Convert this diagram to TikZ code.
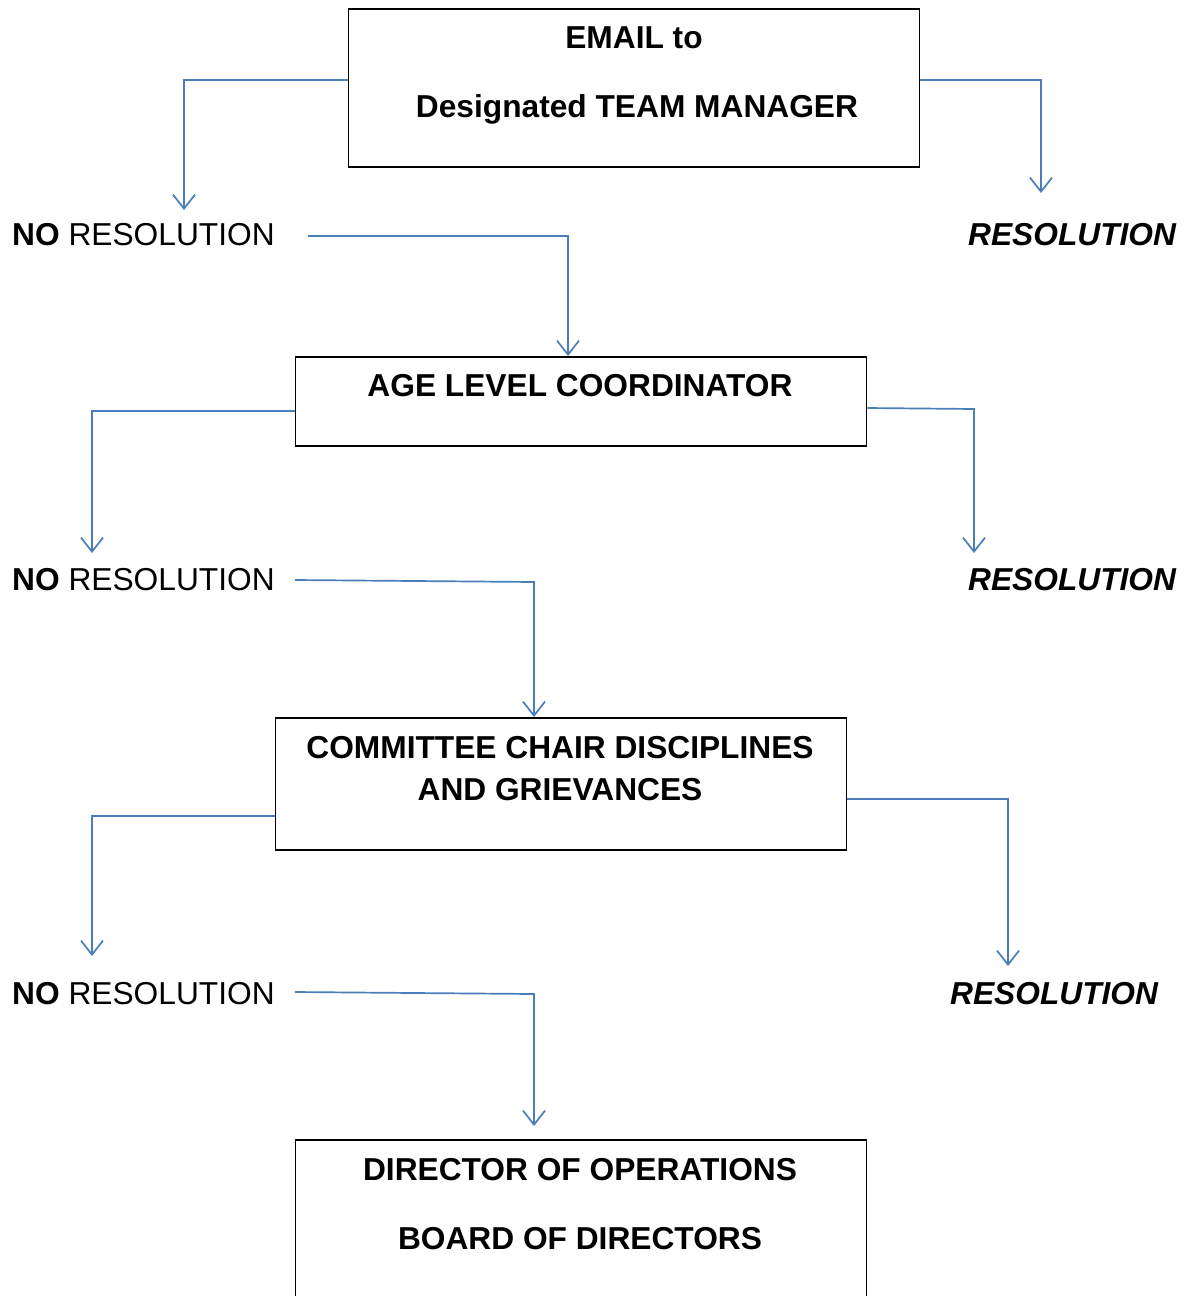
\documentclass[tikz,border=0pt]{standalone}
\usepackage{fontspec}
\setmainfont{Liberation Sans}
\usetikzlibrary{arrows.meta}
\definecolor{conncol}{HTML}{4A7EBB}
\tikzset{
  box/.style={draw=black, line width=1.8pt, inner sep=0pt, anchor=north west},
  lbl/.style={inner sep=0pt, font=\fontsize{31.7}{38}\selectfont},
  conn/.style={draw=conncol, line width=1.7pt, -{Straight Barb[length=14pt,width=22pt]}},
}
\begin{document}
\begin{tikzpicture}[x=1pt,y=-1pt]
\useasboundingbox (0,0) rectangle (1187,1296);
\clip (0,0) rectangle (1187,1296);
% boxes
\node[box, minimum width=571pt, minimum height=158pt] (b1) at (347.5,8) {};
\node[box, minimum width=571pt, minimum height=89pt] (b2) at (294.5,356) {};
\node[box, minimum width=571pt, minimum height=132pt] (b3) at (274.5,717) {};
\node[box, minimum width=571pt, minimum height=200pt] (b4) at (294.5,1139) {};
% box texts
\node[lbl, anchor=base] (t1a) at (634,48) {\bfseries EMAIL to};
\node[lbl, anchor=base] (t1b) at (637,117) {\bfseries Designated TEAM MANAGER};
\node[lbl, anchor=base] (t2) at (580,396) {\bfseries AGE LEVEL COORDINATOR};
\node[lbl, anchor=base] (t3a) at (560,758) {\bfseries COMMITTEE CHAIR DISCIPLINES};
\node[lbl, anchor=base] (t3b) at (560,800) {\bfseries AND GRIEVANCES};
\node[lbl, anchor=base] (t4a) at (580,1180) {\bfseries DIRECTOR OF OPERATIONS};
\node[lbl, anchor=base] (t4b) at (580,1249) {\bfseries BOARD OF DIRECTORS};
% outcome labels
\node[lbl, anchor=base west] (n1) at (12,245) {\textbf{NO} RESOLUTION};
\node[lbl, anchor=base west] (n2) at (12,590) {\textbf{NO} RESOLUTION};
\node[lbl, anchor=base west] (n3) at (12,1004) {\textbf{NO} RESOLUTION};
\node[lbl, anchor=base west] (r1) at (968,245) {\bfseries\itshape RESOLUTION};
\node[lbl, anchor=base west] (r2) at (968,590) {\bfseries\itshape RESOLUTION};
\node[lbl, anchor=base west] (r3) at (950,1004) {\bfseries\itshape RESOLUTION};
% bend and end coordinates
\coordinate (c1l) at (184,80);   \coordinate (e1l) at (184,210);
\coordinate (c1r) at (1041,80);  \coordinate (e1r) at (1041,193);
\coordinate (s1) at (308,236);   \coordinate (c1d) at (568,236);
\coordinate (c2l) at (92,411);   \coordinate (e2l) at (92,553);
\coordinate (c2r) at (974,409);  \coordinate (e2r) at (974,553);
\coordinate (s2) at (295,580);   \coordinate (c2d) at (534,582);
\coordinate (c3l) at (92,816);   \coordinate (e3l) at (92,956);
\coordinate (c3r) at (1008,799); \coordinate (e3r) at (1008,966);
\coordinate (s3) at (295,992);   \coordinate (c3d) at (534,994);
% connectors
\draw[conn] (b1.west |- c1l) -- (c1l) -- (e1l);
\draw[conn] (b1.east |- c1r) -- (c1r) -- (e1r);
\draw[conn] (s1) -- (c1d) -- (b2.north -| c1d);
\draw[conn] (b2.west |- c2l) -- (c2l) -- (e2l);
\draw[conn] ([yshift=1pt]b2.east |- c2r) -- (c2r) -- (e2r);
\draw[conn] (s2) -- (c2d) -- (b3.north -| c2d);
\draw[conn] (b3.west |- c3l) -- (c3l) -- (e3l);
\draw[conn] (b3.east |- c3r) -- (c3r) -- (e3r);
\draw[conn] (s3) -- (c3d) -- ([yshift=13pt]b4.north -| c3d);
\end{tikzpicture}
\end{document}
